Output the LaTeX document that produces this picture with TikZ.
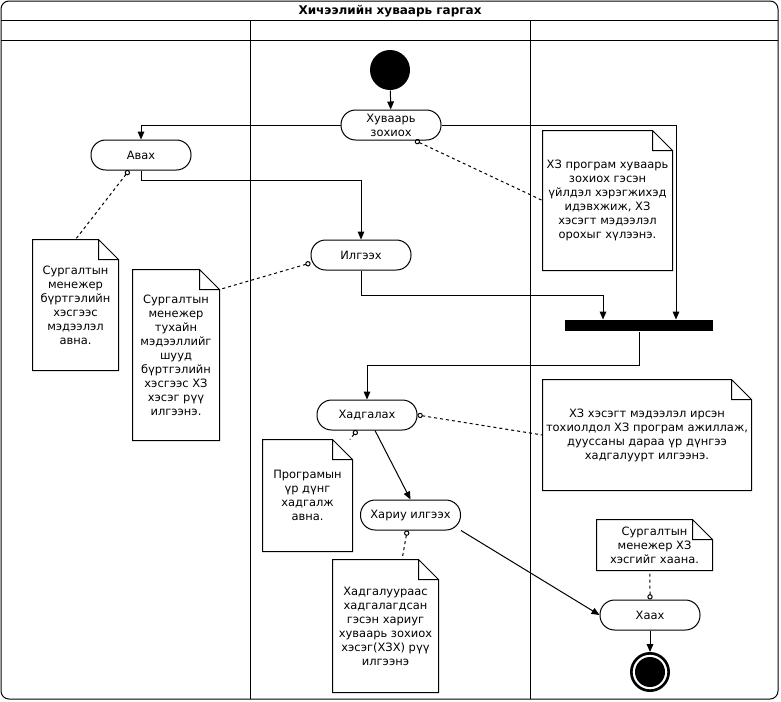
\documentclass[tikz,border=0pt]{standalone}
\usepackage{fontspec}
\setmainfont{DejaVu Sans}
\usetikzlibrary{arrows.meta,shapes.misc}
\tikzset{
  action/.style={draw, rounded corners=11pt, minimum width=75pt, minimum height=22.5pt, align=center, inner sep=1pt},
  note/.style 2 args={minimum width=#1, minimum height=#2, align=center, inner sep=0pt},
  flow/.style={-{Triangle[length=6pt,width=5pt]}},
  link/.style={dash pattern=on 2.25pt off 2.25pt, {Circle[open,length=4pt,width=4pt,line width=0.75pt]}-}
}
\begin{document}
\begin{tikzpicture}[x=0.75pt, y=-0.75pt, line width=0.75pt, font=\fontsize{8.6}{10.5}\selectfont]
    \useasboundingbox (0,0) rectangle (781,701);
    \draw[rounded corners=6pt] (1,1) rectangle (778,699);
    \draw (1,20) -- (778,20) (1,40) -- (778,40) (250,20) -- (250,699) (530,20) -- (530,699);
    \node[font=\fontsize{9}{11}\selectfont\bfseries] (title) at (390,11) {Хичээлийн хуваарь гаргах};

    \node[circle, fill, minimum size=30pt, inner sep=0pt] (start) at (390,70) {};
    \node[action] (zohioh) at (391,125) {Хуваарь\\зохиох};
    \node[action] (avah) at (141,155) {Авах};
    \node[action] (ilgeeh) at (361,255) {Илгээх};
    \node[fill, minimum width=111pt, minimum height=8.25pt, inner sep=0pt] (bar) at (639,325.5) {};
    \node[action] (hadgalah) at (367,415) {Хадгалах};
    \node[action] (hariu) at (410.5,515) {Хариу илгээх};
    \node[action] (haah) at (650,615) {Хаах};
    \node[circle, draw, line width=2pt, minimum size=28pt, inner sep=0pt] (stop) at (650,672) {};
    \fill (stop) circle (11.25pt);

    \node[note={63.75pt}{97.5pt}] (n1) at (75.5,305) {Сургалтын\\менежер\\бүртгэлийн\\хэсгээс\\мэдээлэл\\авна.};
    \node[note={64.5pt}{127.5pt}] (n2) at (176,355) {Сургалтын\\менежер\\тухайн\\мэдээллийг\\шууд\\бүртгэлийн\\хэсгээс ХЗ\\хэсэг рүү\\илгээнэ.};
    \node[note={96.75pt}{104.25pt}] (n3) at (607.5,200.5) {ХЗ програм хуваарь\\зохиох гэсэн\\үйлдэл хэрэгжихэд\\идэвхжиж, ХЗ\\хэсэгт мэдээлэл\\орохыг хүлээнэ.};
    \node[note={156pt}{82.5pt}] (n4) at (647,435) {ХЗ хэсэгт мэдээлэл ирсэн\\тохиолдол ХЗ програм ажиллаж,\\дууссаны дараа үр дүнгээ\\хадгалуурт илгээнэ.};
    \node[note={66.75pt}{83.25pt}] (n5) at (307.5,495.5) {Програмын\\үр дүнг\\хадгалж\\авна.};
    \node[note={78.75pt}{99pt}] (n6) at (385.5,626) {Хадгалуураас\\хадгалагдсан\\гэсэн хариуг\\хуваарь зохиох\\хэсэг(ХЗХ) рүү\\илгээнэ};
    \node[note={86.25pt}{37.5pt}] (n7) at (654.5,545) {Сургалтын\\менежер ХЗ\\хэсгийг хаана.};
    \foreach \n in {n1,n2,n3,n4,n5,n6,n7}
    \draw ([xshift=-15pt]\n.north east) -- (\n.north west) -- (\n.south west) -- (\n.south east) -- ([yshift=-15pt]\n.north east) -- cycle
          ([xshift=-15pt]\n.north east) |- ([yshift=-15pt]\n.north east);

    \draw[flow] (start) -- (zohioh);
    \draw[flow] (zohioh.west) -| (avah.north);
    \draw[flow] (zohioh.east) -| ([xshift=27.75pt]bar.north);
    \draw[flow] (avah.south) -- ++(0,10) -| (ilgeeh.north);
    \draw[flow] (ilgeeh.south) -- ++(0,25) -| ([xshift=-27pt]bar.north);
    \draw[flow] (bar.south) -- ++(0,34) -| (hadgalah.north);
    \draw[flow] ([xshift=6pt]hadgalah.south) -- (hariu.north);
    \draw[flow] (hariu.south east) -- (haah.west);
    \draw[flow] (haah) -- (stop);

    \draw[link] ([xshift=-9pt]avah.south) -- (n1.north);
    \draw[link] ([xshift=18pt]zohioh.south) -- (n3.west);
    \draw[link] ([yshift=-6pt]ilgeeh.west) -- ([yshift=-15pt]n2.north east);
    \draw[link] (hadgalah.east) -- (n4.west);
    \draw[link] ([xshift=-7.5pt]hadgalah.south) -- ([xshift=-2pt]n5.north east);
    \draw[link] ([xshift=-2.5pt]hariu.south) -- ([xshift=12.4pt]n6.north);
    \draw[link] (haah.north) -- ([xshift=-3.4pt]n7.south);
\end{tikzpicture}
\end{document}
